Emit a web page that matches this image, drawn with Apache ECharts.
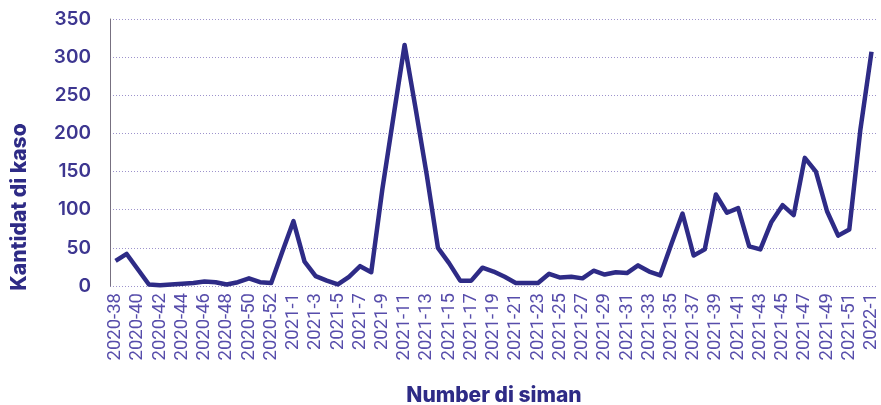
<!DOCTYPE html>
<html>
<head>
<meta charset="utf-8">
<script src="https://cdn.jsdelivr.net/npm/echarts@6/dist/echarts.min.js"></script>
<style>
  html, body { margin: 0; padding: 0; background: #fff; }
  #chart { width: 881px; height: 405px; }
</style>
</head>
<body>
<div id="chart"></div>
<script>
// weeks 2020-38 .. 2020-53, 2021-1 .. 2021-52, 2022-1
const weeks2020 = [38, 39, 40, 41, 42, 43, 44, 45, 46, 47, 48, 49, 50, 51, 52, 53];
const weeks2021 = [
  1, 2, 3, 4, 5, 6, 7, 8, 9, 10, 11, 12, 13, 14, 15, 16, 17, 18, 19, 20,
  21, 22, 23, 24, 25, 26, 27, 28, 29, 30, 31, 32, 33, 34, 35, 36, 37, 38, 39, 40,
  41, 42, 43, 44, 45, 46, 47, 48, 49, 50, 51, 52
];
const weeks2022 = [1];
const categories = []
  .concat(weeks2020.map(w => "2020-" + w))
  .concat(weeks2021.map(w => "2021-" + w))
  .concat(weeks2022.map(w => "2022-" + w));

// kantidat di kaso per siman
const cases = [
  33, 42, 22, 2, 1, 2, 3, 4, 6, 5, 2, 5, 10, 5, 4, 45,
  85, 32, 13, 7, 2, 12, 26, 18, 127, 222, 316, 232, 145, 50, 30, 7, 7, 24, 19, 12,
  4, 4, 4, 16, 11, 12, 10, 20, 15, 18, 17, 27, 19, 14, 55, 95, 40, 48, 120, 96,
  102, 52, 48, 84, 106, 93, 168, 150, 98, 66, 74, 205,
  307
];

const yTicks = { min: 0, max: 350, interval: 50 };

const navy = "#2e2b86";
const labelColor = "#3d3690";

const chart = echarts.init(document.getElementById("chart"));
chart.setOption({
  animation: false,
  grid: {
    left: 110,
    right: 3,
    top: 19,
    bottom: 119,
  },
  xAxis: {
    type: "category",
    data: categories,
    boundaryGap: true,
    axisLine: { show: false },
    axisTick: { show: false },
    axisLabel: {
      interval: 1,
      rotate: 90,
      margin: 7,
      color: "#574dab",
      fontFamily: "Roboto",
      fontSize: 18.5,
    },
  },
  yAxis: {
    type: "value",
    min: yTicks.min,
    max: yTicks.max,
    interval: yTicks.interval,
    axisLine: { show: true, lineStyle: { color: "#777080", width: 1 } },
    axisTick: { show: false },
    axisLabel: {
      margin: 19,
      color: labelColor,
      fontFamily: "Inter",
      fontWeight: 600,
      fontSize: 19,
    },
    splitLine: {
      lineStyle: { color: "#9d93cc", type: [1, 2], width: 1 },
    },
  },
  graphic: [
    {
      type: "text",
      x: 20,
      y: 207,
      rotation: Math.PI / 2,
      style: {
        text: "Kantidat di kaso",
        fill: navy,
        font: "800 21px Inter",
        textAlign: "center",
        textVerticalAlign: "middle",
      },
    },
    {
      type: "text",
      x: 494,
      y: 396,
      style: {
        text: "Number di siman",
        fill: navy,
        font: "800 21px Inter",
        textAlign: "center",
        textVerticalAlign: "middle",
      },
    },
  ],
  series: [
    {
      type: "line",
      data: cases,
      symbol: "none",
      lineStyle: { color: navy, width: 4.5, join: "round" },
    },
  ],
});
</script>
</body>
</html>
